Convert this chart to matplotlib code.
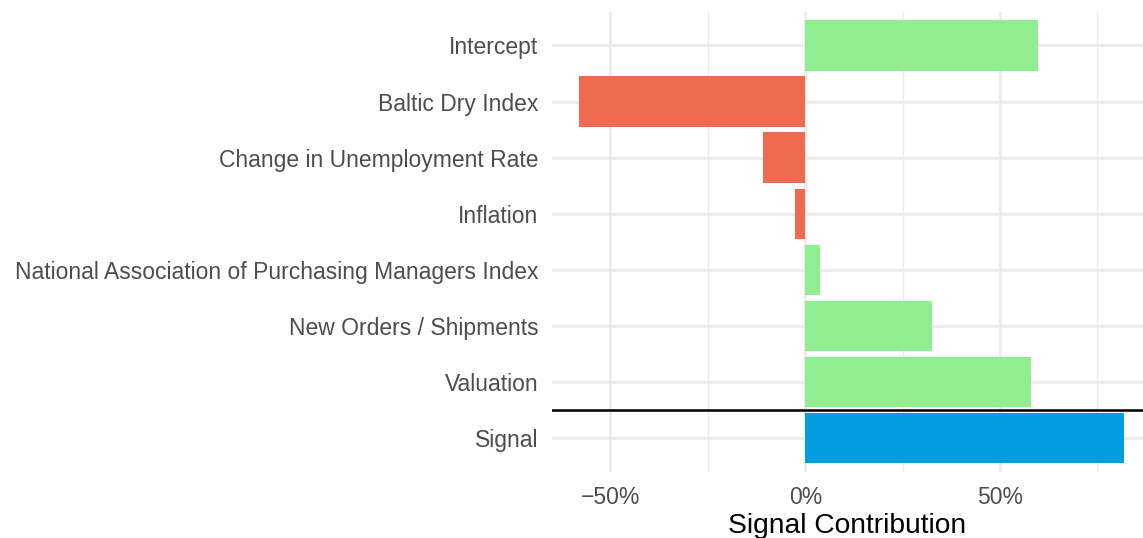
import numpy as np
import matplotlib.pyplot as plt
from matplotlib.ticker import FuncFormatter, MultipleLocator

plt.rcParams['font.family'] = ['Liberation Sans', 'DejaVu Sans']

# data (top to bottom)
factors = ["Intercept", "Baltic Dry Index", "Change in Unemployment Rate", "Inflation",
           "National Association of Purchasing Managers Index", "New Orders / Shipments",
           "Valuation", "Signal"]
contrib = [0.597, -0.582, -0.108, -0.026, 0.038, 0.325, 0.579, 0.818]

green = "#90EE90"
red = "#EE6A50"
blue = "#029DDC"
colors = [blue if f == "Signal" else (green if v >= 0 else red) for f, v in zip(factors, contrib)]

fig = plt.figure(figsize=(11.43, 5.38), dpi=100)
ax = fig.add_axes([0.483, 0.123, 0.517, 0.855])

ypos = np.arange(len(factors))[::-1]
ax.barh(ypos, contrib, height=0.9, color=colors, zorder=3)

# separator line between components and final signal
ax.axhline(0.5, color="black", linewidth=1.8, zorder=4)

ax.set_xlim(-0.65, 0.867)
ax.set_ylim(-0.6, len(factors) - 0.4)
ax.set_yticks(ypos)
ax.set_yticklabels(factors)
ax.xaxis.set_major_locator(MultipleLocator(0.5))
ax.xaxis.set_minor_locator(MultipleLocator(0.25))
ax.xaxis.set_major_formatter(FuncFormatter(lambda v, p: f"{v*100:.0f}%".replace("-", "\u2212")))

ax.grid(which="major", color="#EBEBEB", linewidth=2.0, zorder=0)
ax.grid(which="minor", axis="x", color="#EBEBEB", linewidth=1.0, zorder=0)
for s in ax.spines.values():
    s.set_visible(False)
ax.tick_params(which="both", length=0)
ax.tick_params(axis="y", labelsize=16.5, labelcolor="#4D4D4D", pad=10)
ax.tick_params(axis="x", labelsize=16.5, labelcolor="#4D4D4D", pad=10)
ax.set_xlabel("Signal Contribution", fontsize=20.3, color="black", labelpad=3)

fig.savefig("out.png", dpi=100)
